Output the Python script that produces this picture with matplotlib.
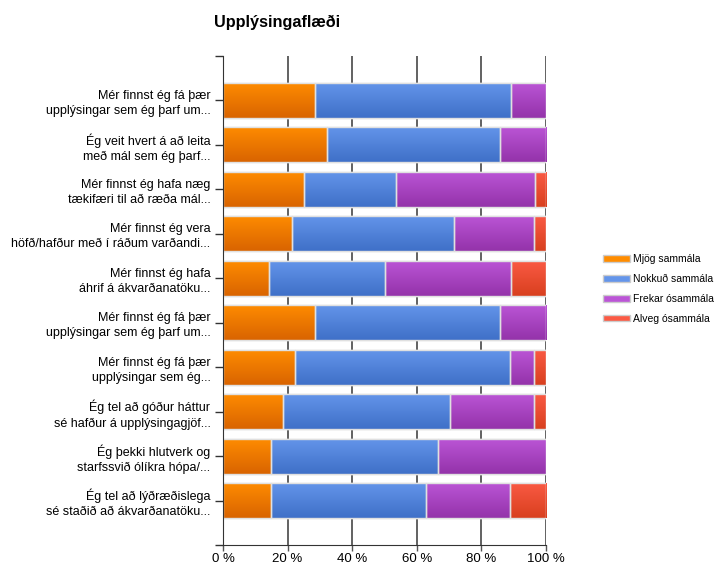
import matplotlib.pyplot as plt
import numpy as np

categories = [
    'Mér finnst ég fá þær\nupplýsingar sem ég þarf um...',
    'Ég veit hvert á að leita\nmeð mál sem ég þarf...',
    'Mér finnst ég hafa næg\ntækifæri til að ræða mál...',
    'Mér finnst ég vera\nhöfð/hafður með í ráðum varðandi...',
    'Mér finnst ég hafa\náhrif á ákvarðanatöku...',
    'Mér finnst ég fá þær\nupplýsingar sem ég þarf um...',
    'Mér finnst ég fá þær\nupplýsingar sem ég...',
    'Ég tel að góður háttur\nsé hafður á upplýsingagjöf...',
    'Ég þekki hlutverk og\nstarfssvið ólíkra hópa/...',
    'Ég tel að lýðræðislega\nsé staðið að ákvarðanatöku...',
]
series_names = ['Mjög sammála', 'Nokkuð sammála', 'Frekar ósammála', 'Alveg ósammála']
mjog = [28.6, 32.1, 25.0, 21.4, 14.3, 28.6, 22.2, 18.5, 14.8, 14.8]
nokkud = [60.7, 53.6, 28.6, 50.0, 35.7, 57.1, 66.7, 51.9, 51.9, 48.1]
frekar = [10.7, 14.3, 42.9, 25.0, 39.3, 14.3, 7.4, 25.9, 33.3, 25.9]
alveg = [0.0, 0.0, 3.5, 3.6, 10.7, 0.0, 3.7, 3.7, 0.0, 11.2]
colors_top = ['#ff8c00', '#6495ea', '#bb55d6', '#fb5a44']
colors_bot = ['#d96400', '#3f70c8', '#9433aa', '#d8401f']

plt.rcParams['font.family'] = ['Liberation Sans', 'DejaVu Sans']

fig = plt.figure(figsize=(7.17, 5.65), dpi=100)
ax = fig.add_axes([223/717, 1 - 545/565, 323/717, 489/565])

y = np.arange(len(categories))
left = np.zeros(len(categories))
for vals, name, ct, cb in zip([mjog, nokkud, frekar, alveg], series_names, colors_top, colors_bot):
    vals = np.array(vals)
    bars = ax.barh(y, vals, left=left, height=0.79, color=ct, edgecolor='#e0e0e0',
                   linewidth=1, label=name, zorder=3)
    # vertical gradient inside each bar
    grad = np.linspace(0, 1, 64).reshape(-1, 1)
    cmap = plt.matplotlib.colors.LinearSegmentedColormap.from_list('g', [ct, cb])
    for b in bars:
        if b.get_width() <= 0:
            continue
        x0, y0 = b.get_x(), b.get_y()
        im = ax.imshow(grad, cmap=cmap, aspect='auto', zorder=3.5,
                       extent=(x0, x0 + b.get_width(), y0 + b.get_height(), y0))
        im.set_clip_path(b)
        ax.add_patch(plt.Rectangle((x0, y0), b.get_width(), b.get_height(), fill=False,
                                   edgecolor='#e0e0e0', linewidth=1, zorder=4))
    left += vals

ax.set_xlim(0, 100)
ax.set_ylim(10, -1)
ax.set_xticks([0, 20, 40, 60, 80, 100])
ax.set_xticklabels(['0 %', '20 %', '40 %', '60 %', '80 %', '100 %'], fontsize=9.5)
ax.set_yticks(list(y) + [-1, 10])
ax.set_yticklabels(categories + ['', ''], fontsize=9, linespacing=1.35)
ax.tick_params(axis='y', length=6, width=1, color='#333333', pad=3)
ax.tick_params(axis='x', length=4, width=1, color='#555555', pad=2)
ax.xaxis.grid(True, color='#555555', linewidth=1.3, zorder=0)
ax.set_axisbelow(True)
for s in ['top', 'right']:
    ax.spines[s].set_visible(False)
ax.spines['left'].set_color('#333333')
ax.spines['bottom'].set_color('#333333')
ax.spines['left'].set_zorder(5)

fig.text(214/717, 1 - 22/565, 'Upplýsingaflæði', fontsize=11.7, fontweight='bold',
         va='center', ha='left')

handles = [plt.Rectangle((0, 0), 1, 1, facecolor=c, edgecolor='#cccccc') for c in colors_top]
fig.legend(handles, series_names, loc='center left', bbox_to_anchor=(598/717, 1 - 289/565),
           frameon=False, fontsize=7.5, handlelength=2.6, handleheight=0.6,
           labelspacing=0.95, handletextpad=0.3, borderpad=0)

fig.savefig('out.png', dpi=100)
